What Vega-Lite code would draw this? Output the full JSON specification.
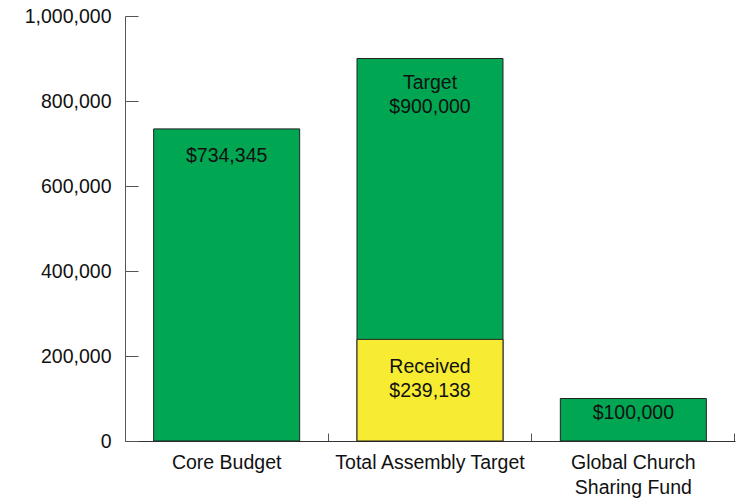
{
  "$schema": "https://vega.github.io/schema/vega-lite/v6.json",
  "width": 610,
  "height": 425,
  "padding": {"left": 125, "top": 16, "right": 10, "bottom": 58},
  "autosize": {"type": "none"},
  "config": {
    "view": {"stroke": null},
    "font": "Liberation Sans",
    "text": {"font": "Liberation Sans"}
  },
  "data": {
    "values": [
      {"cat": "Core Budget", "total": 734345, "label": "$734,345"},
      {"cat": "Total Assembly Target", "total": 900000, "received": 239138, "label": "Target\n$900,000", "rlabel": "Received\n$239,138"},
      {"cat": "Global Church Sharing Fund", "total": 100000, "label": "$100,000"}
    ]
  },
  "encoding": {
    "x": {
      "field": "cat",
      "type": "nominal",
      "sort": null,
      "scale": {"paddingInner": 0.282, "paddingOuter": 0.141},
      "axis": {
        "title": null,
        "labelAngle": 0,
        "labelFontSize": 19.5,
        "labelColor": "#111",
        "labelPadding": 20,
        "labelLimit": 400,
        "labelExpr": "datum.value == 'Global Church Sharing Fund' ? ['Global Church', 'Sharing Fund'] : datum.value",
        "labelLineHeight": 25,
        "bandPosition": 1.196,
        "tickSize": -8,
        "tickColor": "#555",
        "domainColor": "#333"
      }
    }
  },
  "layer": [
    {
      "mark": {"type": "bar", "color": "#00A651", "stroke": "#222", "strokeWidth": 1},
      "encoding": {
        "y": {
          "field": "total",
          "type": "quantitative",
          "scale": {"domain": [0, 1000000], "nice": false},
          "axis": {
            "title": null,
            "values": [0, 200000, 400000, 600000, 800000, 1000000],
            "labelExpr": "format(datum.value, ',')",
            "grid": false,
            "labelFontSize": 19.5,
            "labelColor": "#111",
            "tickSize": -13,
            "labelPadding": 27,
            "tickColor": "#555",
            "domainColor": "#555"
          }
        }
      }
    },
    {
      "mark": {"type": "bar", "color": "#F7EC32", "stroke": "#222", "strokeWidth": 1},
      "transform": [{"filter": "isValid(datum.received)"}],
      "encoding": {"y": {"field": "received", "type": "quantitative"}}
    },
    {
      "mark": {"type": "text", "baseline": "top", "dy": 18.5, "fontSize": 19.5, "color": "#111"},
      "transform": [{"filter": "datum.cat == 'Core Budget'"}],
      "encoding": {"y": {"field": "total", "type": "quantitative"}, "text": {"field": "label"}}
    },
    {
      "mark": {"type": "text", "baseline": "top", "dy": 15.5, "fontSize": 19.5, "color": "#111", "lineBreak": "\n", "lineHeight": 24},
      "transform": [{"filter": "datum.cat == 'Total Assembly Target'"}],
      "encoding": {"y": {"field": "total", "type": "quantitative"}, "text": {"field": "label"}}
    },
    {
      "mark": {"type": "text", "baseline": "top", "dy": 5.5, "fontSize": 19.5, "color": "#111"},
      "transform": [{"filter": "datum.total <= 200000"}],
      "encoding": {"y": {"field": "total", "type": "quantitative"}, "text": {"field": "label"}}
    },
    {
      "mark": {"type": "text", "baseline": "top", "dy": 18.5, "fontSize": 19.5, "color": "#111", "lineBreak": "\n", "lineHeight": 24},
      "transform": [{"filter": "isValid(datum.received)"}],
      "encoding": {"y": {"field": "received", "type": "quantitative"}, "text": {"field": "rlabel"}}
    }
  ]
}
